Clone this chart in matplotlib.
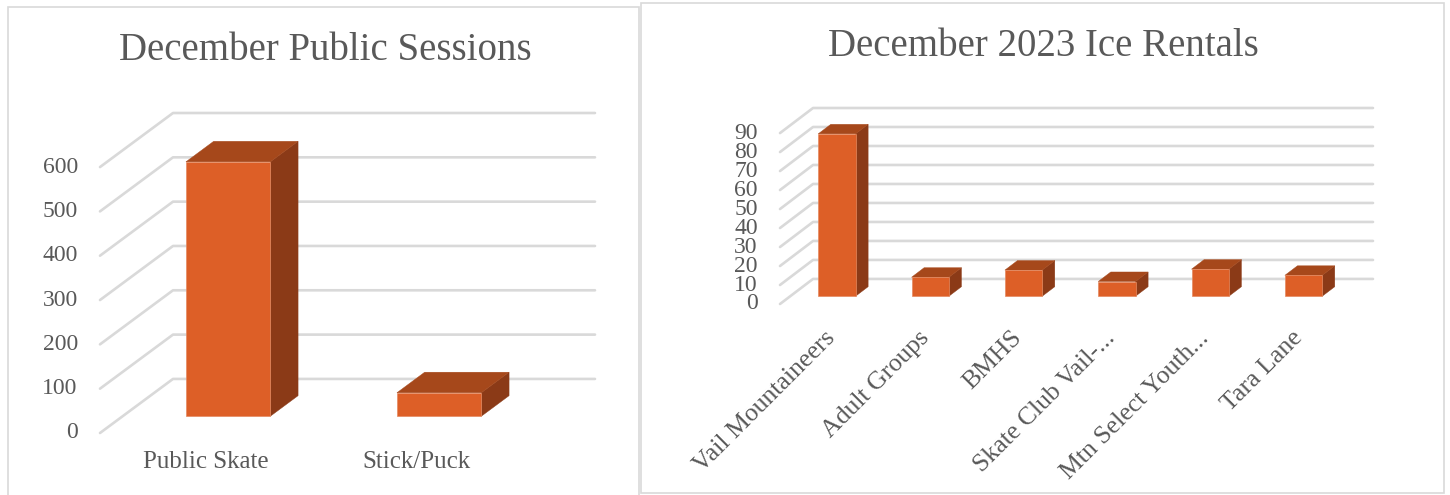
import numpy as np
import matplotlib
matplotlib.use("Agg")
import matplotlib.pyplot as plt
from matplotlib.patches import Polygon, Rectangle

plt.rcParams['font.family'] = ['Liberation Serif', 'DejaVu Serif']

# -- data
public_cats = ["Public Skate", "Stick/Puck"]
public_vals = [574, 53]
public_ticks = [0, 100, 200, 300, 400, 500, 600]

rental_cats = ["Vail Mountaineers", "Adult Groups", "BMHS", "Skate Club Vail-...",
               "Mtn Select Youth...", "Tara Lane"]
rental_vals = [85.5, 10, 13.75, 7.75, 14.25, 11]
rental_ticks = [0, 10, 20, 30, 40, 50, 60, 70, 80, 90]

# -- styling
TXT = "#595959"
GRID = "#d9d9d9"
C_FRONT = "#DD5F27"
C_TOP = "#A6481B"
C_SIDE = "#8B3A17"
W, H = 1450, 495


def fig_box(x0, y0, x1, y1):
    #-pixel box (top-left origin) -> figure fraction [l, b, w, h]
    return [x0 / W, 1 - y1 / H, (x1 - x0) / W, (y1 - y0) / H]


def proj(x, y, d, DX, DY):
    #-oblique projection: d=1 is the back wall, d=0 the front
    return (x - DX * (1 - d), y - DY * (1 - d))


def bar3d(ax, i, v, DX, DY, w=0.40, d0=0.31, dep=0.38):
    x0 = i + 0.5 - w / 2
    x1 = i + 0.5 + w / 2
    d1 = d0 + dep
    P = lambda x, y, d: proj(x, y, d, DX, DY)
    front = [P(x0, 0, d0), P(x1, 0, d0), P(x1, v, d0), P(x0, v, d0)]
    top = [P(x0, v, d0), P(x1, v, d0), P(x1, v, d1), P(x0, v, d1)]
    side = [P(x1, 0, d0), P(x1, 0, d1), P(x1, v, d1), P(x1, v, d0)]
    ax.add_patch(Polygon(side, closed=True, fc=C_SIDE, ec=C_SIDE, lw=0.3, zorder=3))
    ax.add_patch(Polygon(top, closed=True, fc=C_TOP, ec=C_TOP, lw=0.3, zorder=3))
    ax.add_patch(Polygon(front, closed=True, fc=C_FRONT, ec="#e58a60", lw=0.5, zorder=4))


def chart(box, cats, vals, ticks, ymax, DX, DY, rotate=False):
    ax = fig.add_axes(fig_box(*box))
    n = len(cats)
    ax.set_xlim(-DX, n)
    ax.set_ylim(-DY, ymax)
    ax.axis("off")

    #-back wall gridlines + the diagonal side-wall part
    for t in ticks:
        ax.plot([-DX, 0, n], [t - DY, t, t], color=GRID, lw=1.9, zorder=1,
                solid_capstyle="round", clip_on=False)
        ax.annotate(str(t), xy=(-DX, t - DY), xytext=(-16, 0), textcoords="offset points",
                    ha="right", va="center", fontsize=17, color=TXT)

    for i, v in enumerate(vals):
        bar3d(ax, i, v, DX, DY)

    for i, c in enumerate(cats):
        if rotate:
            ax.annotate(c, xy=(i + 0.5 - DX, -DY), xytext=(4, -22), textcoords="offset points",
                        ha="right", va="center", rotation=45, rotation_mode="anchor",
                        fontsize=18.5, color=TXT)
        else:
            ax.annotate(c, xy=(i + 0.5 - DX, -DY), xytext=(0, -21), textcoords="offset points",
                        ha="center", va="center", fontsize=18, color=TXT)
    return ax


fig = plt.figure(figsize=(W / 100, H / 100), dpi=100)

#-panel frames
fig.patches.append(Rectangle((8 / W, 1 - 520 / H), 631 / W, 513 / H, transform=fig.transFigure,
                             fill=False, ec=GRID, lw=1.2))
fig.patches.append(Rectangle((641 / W, 1 - 493 / H), 803 / W, 490 / H, transform=fig.transFigure,
                             fill=False, ec=GRID, lw=1.2))

chart((100, 113, 595, 433), public_cats, public_vals, public_ticks, 600, 0.346, 122)
chart((780, 108, 1373, 304), rental_cats, rental_vals, rental_ticks, 90, 0.354, 13.2, rotate=True)

fig.text(325 / W, 1 - 50 / H, "December Public Sessions", ha="center", va="center",
         fontsize=28, color=TXT)
fig.text(1043 / W, 1 - 47 / H, "December 2023 Ice Rentals", ha="center", va="center",
         fontsize=28, color=TXT)

fig.savefig("out.png", dpi=100, facecolor="white")
